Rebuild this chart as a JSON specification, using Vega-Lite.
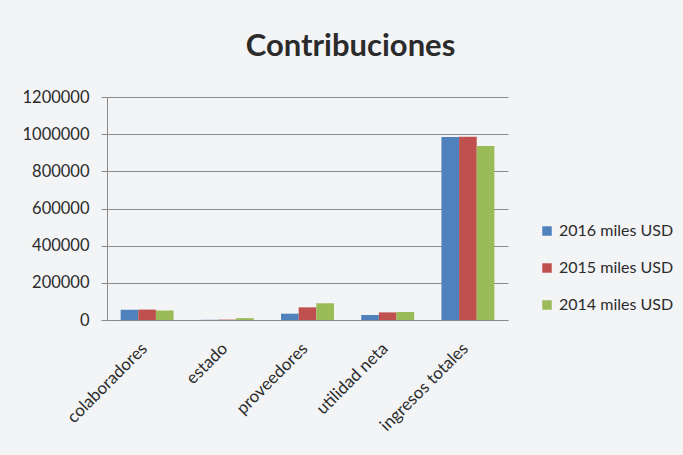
{
  "$schema": "https://vega.github.io/schema/vega-lite/v6.json",
  "width": 401,
  "height": 223,
  "autosize": "none",
  "padding": {"left": 107, "top": 97, "right": 175, "bottom": 135},
  "background": "#f3f4f6",
  "config": {
    "font": "Lato",
    "view": {"stroke": null}
  },
  "title": {
    "text": "Contribuciones",
    "fontSize": 31,
    "fontWeight": "bold",
    "color": "#2b2b2b",
    "anchor": "middle",
    "dx": 43,
    "offset": 26,
    "font": "Lato"
  },
  "data": {
    "values": [
      {"categoria": "colaboradores", "serie": "2016 miles USD", "valor": 55000},
      {"categoria": "colaboradores", "serie": "2015 miles USD", "valor": 56000},
      {"categoria": "colaboradores", "serie": "2014 miles USD", "valor": 51000},
      {"categoria": "estado", "serie": "2016 miles USD", "valor": 1000},
      {"categoria": "estado", "serie": "2015 miles USD", "valor": 2000},
      {"categoria": "estado", "serie": "2014 miles USD", "valor": 10000},
      {"categoria": "proveedores", "serie": "2016 miles USD", "valor": 34000},
      {"categoria": "proveedores", "serie": "2015 miles USD", "valor": 68000},
      {"categoria": "proveedores", "serie": "2014 miles USD", "valor": 90000},
      {"categoria": "utilidad neta", "serie": "2016 miles USD", "valor": 27000},
      {"categoria": "utilidad neta", "serie": "2015 miles USD", "valor": 41000},
      {"categoria": "utilidad neta", "serie": "2014 miles USD", "valor": 43000},
      {"categoria": "ingresos totales", "serie": "2016 miles USD", "valor": 985000},
      {"categoria": "ingresos totales", "serie": "2015 miles USD", "valor": 986000},
      {"categoria": "ingresos totales", "serie": "2014 miles USD", "valor": 936000}
    ]
  },
  "mark": {"type": "bar"},
  "encoding": {
    "x": {
      "field": "categoria",
      "type": "nominal",
      "sort": ["colaboradores", "estado", "proveedores", "utilidad neta", "ingresos totales"],
      "scale": {"paddingInner": 0.34, "paddingOuter": 0.17},
      "axis": {
        "title": null,
        "labelAngle": -45,
        "labelFontSize": 17,
        "labelColor": "#2b2b2b",
        "labelPadding": 20,
        "labelOffset": -8,
        "domainColor": "#8a8a8a",
        "ticks": false
      }
    },
    "xOffset": {
      "field": "serie",
      "type": "nominal",
      "sort": ["2016 miles USD", "2015 miles USD", "2014 miles USD"]
    },
    "y": {
      "field": "valor",
      "type": "quantitative",
      "scale": {"domain": [0, 1200000], "nice": false},
      "axis": {
        "title": null,
        "values": [0, 200000, 400000, 600000, 800000, 1000000, 1200000],
        "format": "d",
        "labelFontSize": 16.5,
        "labelColor": "#2b2b2b",
        "labelPadding": 12,
        "tickSize": 6,
        "tickColor": "#8a8a8a",
        "domainColor": "#8a8a8a",
        "gridColor": "#8a8a8a",
        "gridWidth": 1
      }
    },
    "color": {
      "field": "serie",
      "type": "nominal",
      "sort": ["2016 miles USD", "2015 miles USD", "2014 miles USD"],
      "scale": {"range": ["#4f81bd", "#c0504d", "#9bbb59"]},
      "legend": {
        "title": null,
        "orient": "none",
        "legendX": 432,
        "legendY": 126,
        "symbolType": "square",
        "symbolSize": 90,
        "labelFontSize": 16,
        "labelColor": "#2b2b2b",
        "labelOffset": 4,
        "labelLimit": 200,
        "rowPadding": 21,
        "symbolOpacity": 1
      }
    }
  }
}
